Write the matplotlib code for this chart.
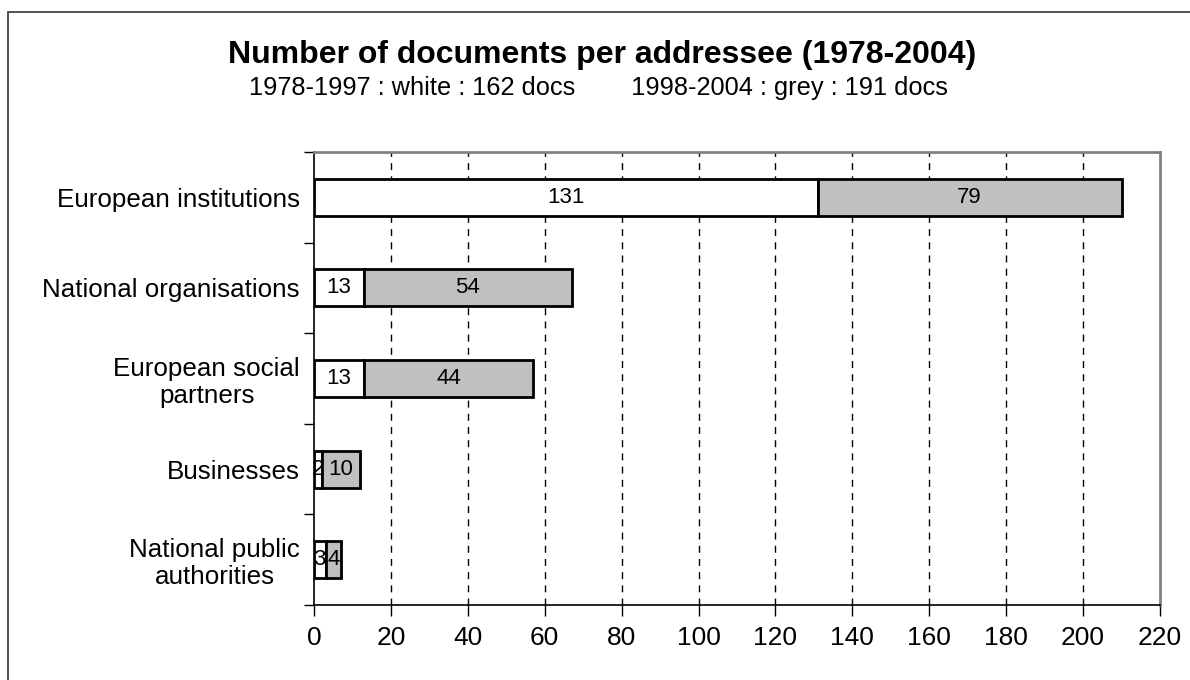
import matplotlib
matplotlib.use("Agg")
import matplotlib.pyplot as plt
from matplotlib.patches import Rectangle
from matplotlib.ticker import FixedLocator, NullFormatter

plt.rcParams['font.family'] = ['Liberation Sans', 'DejaVu Sans']

categories = ["European institutions", "National organisations",
              "European social\npartners", "Businesses",
              "National public\nauthorities"]
period1 = [131, 13, 13, 2, 3]     # 1978-1997 (white)
period2 = [79, 54, 44, 10, 4]     # 1998-2004 (grey)
xticks = list(range(0, 221, 20))

fig = plt.figure(figsize=(11.9, 6.8), dpi=100)
ax = fig.add_axes([314/1190, 75/680, 846/1190, 453/680])

# outer frame of the chart area
fig.patches.append(Rectangle((8/1190, -0.1), 1.2, (680-12)/680 + 0.1,
                             transform=fig.transFigure, fill=False,
                             edgecolor='#333333', linewidth=1.2))

n = len(categories)
ypos = list(range(n))[::-1]
h = 0.41
ax.barh(ypos, period1, height=h, color='white', edgecolor='black', linewidth=2, zorder=3)
ax.barh(ypos, period2, left=period1, height=h, color='#c0c0c0', edgecolor='black',
        linewidth=2, zorder=3)

for y, a, b in zip(ypos, period1, period2):
    ax.text(a / 2, y, str(a), ha='center', va='center', fontsize=16, zorder=4)
    ax.text(a + b / 2, y, str(b), ha='center', va='center', fontsize=16, zorder=4)

ax.set_xlim(0, 220)
ax.set_ylim(-0.5, n - 0.5)
ax.set_xticks(xticks)
ax.tick_params(axis='x', labelsize=19, length=8, width=1, direction='out', pad=7)

ax.yaxis.set_major_locator(FixedLocator([i - 0.5 for i in range(n + 1)]))
ax.yaxis.set_major_formatter(NullFormatter())
ax.yaxis.set_minor_locator(FixedLocator(ypos))
ax.set_yticklabels(categories, minor=True)
ax.tick_params(axis='y', which='major', length=7, width=1, direction='out')
ax.tick_params(axis='y', which='minor', length=0, labelsize=18.7, pad=10)
for lbl in ax.get_yticklabels(minor=True):
    lbl.set_horizontalalignment('right')
    lbl.set_multialignment('center')
    lbl.set_linespacing(1.15)

for x in xticks[1:-1]:
    ax.axvline(x, color='black', linestyle=(0, (5, 4.5)), linewidth=1, zorder=1)

for s in ['top', 'right']:
    ax.spines[s].set_color('#808080')
    ax.spines[s].set_linewidth(2)
for s in ['left', 'bottom']:
    ax.spines[s].set_color('black')
    ax.spines[s].set_linewidth(1.2)

fig.text(602/1190, 1 - 55/680, "Number of documents per addressee (1978-2004)",
         ha='center', va='center', fontsize=23, fontweight='bold')
fig.text(598/1190, 1 - 88/680,
         "1978-1997 : white : 162 docs        1998-2004 : grey : 191 docs",
         ha='center', va='center', fontsize=18.3)

fig.savefig("out.png", dpi=100)
